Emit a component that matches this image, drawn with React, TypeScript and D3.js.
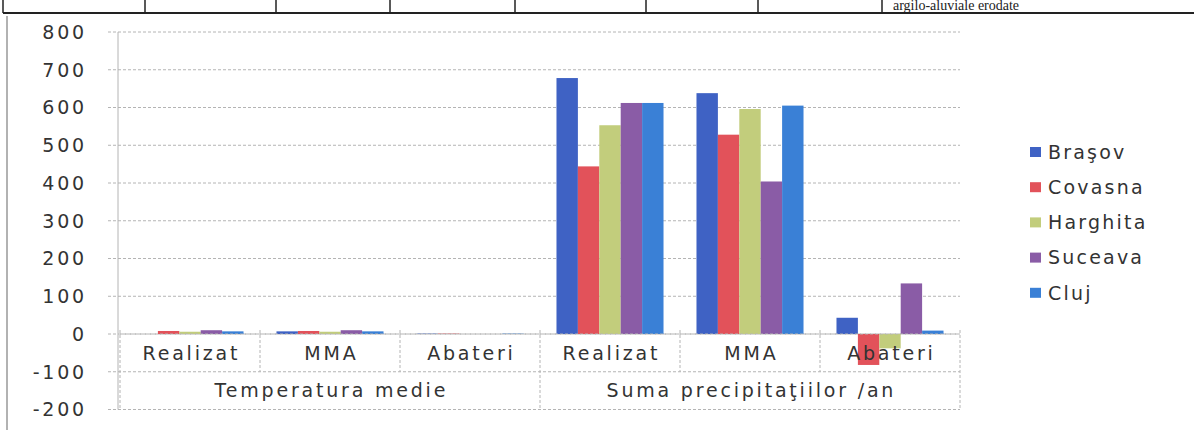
import * as d3 from "d3";

// categories: two levels
const subCategories = ["Realizat", "MMA", "Abateri", "Realizat", "MMA", "Abateri"];
const groups = ["Temperatura medie", "Suma precipitaţiilor /an"];

const series = ["Braşov", "Covasna", "Harghita", "Suceava", "Cluj"];
const seriesColors = ["#3f62c4", "#e2525a", "#c2cd7c", "#8a5ca6", "#3a80d6"];

// values per category, in series order
const brasov = [0, 7, 1, 678, 638, 43];
const covasna = [8, 8, 1, 444, 528, -82];
const harghita = [6, 6, 0, 553, 596, -38];
const suceava = [10, 10, 0, 612, 404, 134];
const cluj = [7, 7, 1, 612, 605, 9];

const yTicks = [800, 700, 600, 500, 400, 300, 200, 100, 0, -100, -200];

// document table fragment above the chart
const tableLines = [3, 145, 276, 390, 515, 646, 758, 882];

const App = () => {
    const width = 1194;
    const height = 430;
    const left = 120;
    const right = 960;

    const values = [brasov, covasna, harghita, suceava, cluj];

    const y = d3.scaleLinear().domain([-200, 800]).range([409.5, 32]);

    const x0 = d3.scaleBand<number>()
        .domain(d3.range(subCategories.length))
        .range([left, right]);

    const x1 = d3.scaleBand<string>()
        .domain(series)
        .range([0, x0.bandwidth()])
        .paddingInner(0)
        .paddingOuter(0.77);

    const font = "'DejaVu Sans', sans-serif";
    const textColor = "#333";
    const grid = "#b4b4b4";
    const fs = 19;
    const ls = 2.8;

    return (
        <svg width={width} height={height} style={{ position: "absolute", left: 0, top: 0, background: "#fff" }}>
            {/* page table above */}
            <line x1={3} x2={width} y1={13} y2={13} stroke="#222" strokeWidth={2} />
            {tableLines.map((lx) => (
                <line key={lx} x1={lx} x2={lx} y1={0} y2={13} stroke="#222" strokeWidth={1.5} />
            ))}
            <text x={893} y={10} fontFamily="'Liberation Serif', serif" fontSize={14} fill="#222">argilo-aluviale erodate</text>

            {/* chart frame left edge */}
            <line x1={7} x2={7} y1={16} y2={height} stroke="#999" strokeWidth={1.5} />

            {/* gridlines + y ticks */}
            {yTicks.map((t) => (
                <g key={t}>
                    <line x1={108} x2={right} y1={y(t)} y2={y(t)} stroke={grid} strokeDasharray="3,2" />
                    <text x={87} y={y(t)} dy="0.36em" textAnchor="end" fontFamily={font} fontSize={fs}
                        letterSpacing={ls} fill={textColor}>{t}</text>
                </g>
            ))}
            <line x1={left - 2} x2={left - 2} y1={y(800)} y2={y(-200)} stroke={grid} />

            {/* bars */}
            {subCategories.map((_, ci) => (
                <g key={ci} transform={`translate(${x0(ci)},0)`}>
                    {series.map((s, si) => {
                        const v = values[si][ci];
                        return (
                            <rect key={s} x={x1(s)} width={x1.bandwidth()}
                                y={y(Math.max(0, v))} height={Math.abs(y(v) - y(0))}
                                fill={seriesColors[si]} />
                        );
                    })}
                </g>
            ))}

            {/* category axis table */}
            <line x1={left} x2={right} y1={y(0)} y2={y(0)} stroke={grid} strokeDasharray="3,2" />
            {d3.range(subCategories.length + 1).map((i) => {
                const lx = i < subCategories.length ? x0(i)! : right;
                const full = i % 3 === 0;
                return (
                    <line key={i} x1={lx} x2={lx} y1={y(0) - 4} y2={full ? y(-200) : y(-100)}
                        stroke={grid} strokeDasharray="3,2" />
                );
            })}
            {subCategories.map((c, i) => (
                <text key={i} x={x0(i)! + x0.bandwidth() / 2 + ls / 2} y={y(-50)} dy="0.36em"
                    textAnchor="middle" fontFamily={font} fontSize={fs} letterSpacing={ls}
                    fill={textColor}>{c}</text>
            ))}
            {groups.map((g, i) => (
                <text key={g} x={x0(i * 3)! + x0.bandwidth() * 1.5 + ls / 2} y={y(-150)} dy="0.36em"
                    textAnchor="middle" fontFamily={font} fontSize={fs} letterSpacing={ls}
                    fill={textColor}>{g}</text>
            ))}

            {/* legend */}
            {series.map((s, i) => (
                <g key={s} transform={`translate(1030,${152 + i * 35.2})`}>
                    <rect x={0} y={-5} width={11} height={10} fill={seriesColors[i]} />
                    <text x={18} y={0} dy="0.36em" fontFamily={font} fontSize={fs} letterSpacing={2.2}
                        fill={textColor}>{s}</text>
                </g>
            ))}
        </svg>
    );
};

export default App;
